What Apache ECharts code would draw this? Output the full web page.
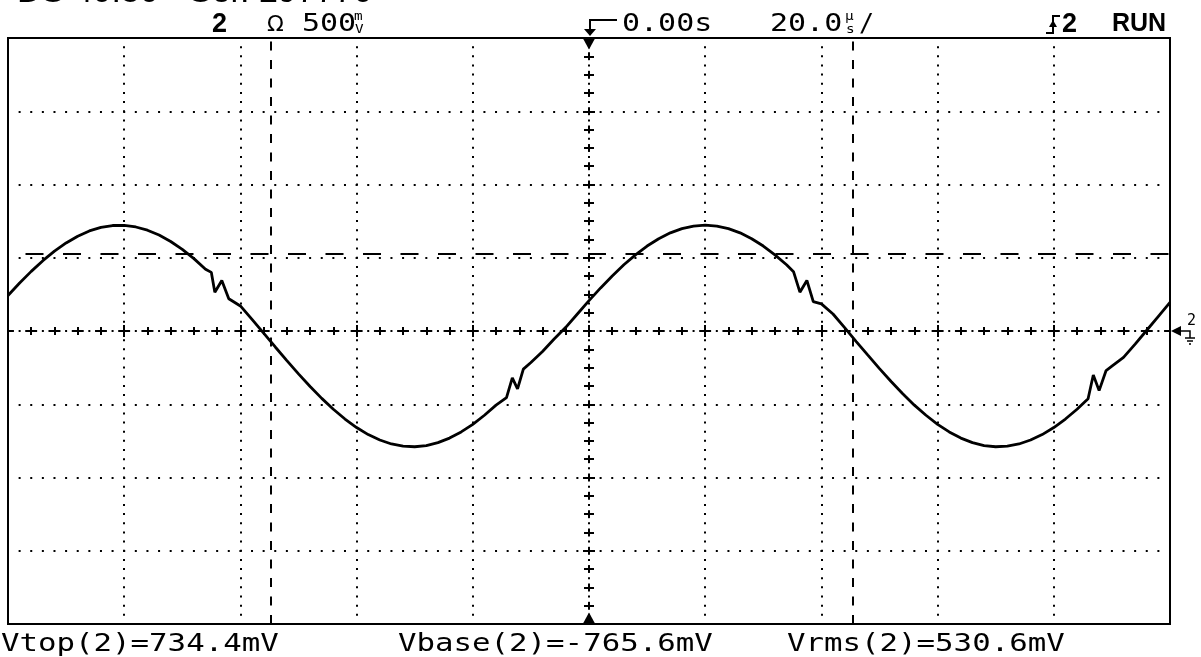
<!DOCTYPE html>
<html>
	<head>
		<meta charset="utf-8" />
		<title>Scope capture</title>
		<script src="https://cdn.jsdelivr.net/npm/echarts@6/dist/echarts.min.js"></script>
		<style>
			body { margin: 0; background: #fff; }
		</style>
	</head>
	<body>
		<div id="main" style="width: 1201px;height:657px;"></div>
		<script type="text/javascript">
			// trace: time in us, channel 2 in mV
			var timeUs = [-100, -98, -96, -94, -92, -90, -88, -86, -84, -82, -80, -78, -76, -74, -72, -70, -68, -66,
				-65, -64.4, -63.2, -62,
				-60, -58, -56, -54, -52, -50, -48, -46, -44, -42, -40, -38, -36, -34, -32, -30, -28, -26, -24, -22, -20, -18, -16,
				-14.2, -13.2, -12.3, -11.3,
				-10, -8, -6, -4, -2, 0, 2, 4, 6, 8, 10, 12, 14, 16, 18, 20, 22, 24, 26, 28, 30, 32, 34,
				35.2, 36.3, 37.5, 38.6,
				40, 42, 44, 46, 48, 50, 52, 54, 56, 58, 60, 62, 64, 66, 68, 70, 72, 74, 76, 78, 80, 82, 84,
				85.9, 86.8, 87.8, 89,
				90, 92, 94, 96, 98, 100];
			var voltMv = [242, 328, 407, 480, 545, 601, 647, 683, 707, 720, 721, 710, 688, 655, 611, 557, 494, 422,
				400, 265, 345, 220,
				171, 79, -15, -109, -202, -293, -379, -460, -534, -601, -659, -707, -744, -771, -786, -790, -782, -762, -731, -689, -637, -575, -506,
				-455, -320, -395, -260,
				-215, -140, -55, 25, 116, 207, 294, 376, 452, 520, 580, 630, 670, 699, 716, 722, 716, 699, 670, 630, 580, 520, 452,
				405, 265, 345, 200,
				185, 116, 23, -72, -165, -257, -345, -428, -506, -575, -637, -689, -731, -762, -782, -790, -786, -771, -744, -707, -659, -601, -534,
				-462, -300, -407, -270,
				-240, -180, -90, 5, 100, 195];

			var cursorTimeUs = [-54.8, 45.4];
			var cursorLevelMv = [525];
			var measureText = ['Vtop(2)=734.4mV', 'Vbase(2)=-765.6mV', 'Vrms(2)=530.6mV'];
			var measureX = [1, 398, 787];

			var scopeFont = '25px "DejaVu Sans Mono"';
			var unitFont = '13px "DejaVu Sans Mono"';
			var boldFont = 'bold 27px "Liberation Sans"';

			function label(x, y, s, font, sx) {
				return {
					type: 'text', x: x, y: y, scaleX: sx || 1, z: 10,
					style: {text: s, font: font, fill: '#000', align: 'left', verticalAlign: 'middle',
						textAlign: 'left', textVerticalAlign: 'middle'}
				};
			}
			function stroke(points, w) {
				return {type: 'polyline', z: 10, shape: {points: points}, style: {stroke: '#000', lineWidth: w || 2, fill: null}};
			}
			function filled(points) {
				return {type: 'polygon', z: 10, shape: {points: points}, style: {fill: '#000'}};
			}

			var trace = [];
			for (var i = 0; i < timeUs.length; i++) {
				trace.push([timeUs[i], voltMv[i]]);
			}

			var cursorLines = [];
			for (var j = 0; j < cursorTimeUs.length; j++) {
				cursorLines.push({xAxis: cursorTimeUs[j]});
			}
			for (var k = 0; k < cursorLevelMv.length; k++) {
				cursorLines.push({yAxis: cursorLevelMv[k], lineStyle: {type: [18, 19.5], dashOffset: 20}});
			}

			var graphics = [
				label(17, -7, 'DS 40.50 - Ser. 297770', '34px "Liberation Sans"'),
				label(212, 25, '2', boldFont),
				label(267, 25, 'Ω', '22px "DejaVu Sans"'),
				label(302, 24, '500', scopeFont, 1.2),
				label(354, 17, 'm', unitFont, 1.1),
				label(355, 30, 'V', unitFont, 1.1),
				stroke([[617, 20], [590, 20], [590, 30]]),
				filled([[584, 29], [596, 29], [590, 36]]),
				label(622, 24, '0.00s', scopeFont, 1.2),
				label(770, 24, '20.0', scopeFont, 1.2),
				label(845, 17, 'µ', unitFont, 1.1),
				label(846, 30, 's', unitFont, 1.1),
				label(859, 24, '/', scopeFont, 1.0),
				stroke([[1046, 33], [1053, 33], [1053, 16], [1060, 16]]),
				filled([[1049, 27], [1057, 27], [1053, 20]]),
				label(1062, 25, '2', boldFont),
				label(1112, 24, 'RUN', 'bold 25px "Liberation Sans"'),
				filled([[1171, 331], [1181, 326], [1181, 336]]),
				stroke([[1181, 331], [1190, 331], [1190, 338]], 1.5),
				stroke([[1185, 338], [1195, 338]], 1.5),
				stroke([[1187, 341], [1193, 341]], 1.5),
				stroke([[1189, 344], [1191, 344]], 1.5),
				label(1187, 321, '2', '15px "DejaVu Sans Mono"')
			];
			for (var m = 0; m < measureText.length; m++) {
				graphics.push(label(measureX[m], 644, measureText[m], scopeFont, 1.23));
			}

			var myChart = echarts.init(document.getElementById('main'));
			var black = '#000';
			var option = {
				backgroundColor: '#fff',
				animation: false,
				grid: {
					left: 8, top: 38, width: 1162, height: 586,
					show: true, borderColor: black, borderWidth: 2, backgroundColor: '#fff'
				},
				xAxis: [{
					type: 'value', min: -100, max: 100, interval: 20, position: 'bottom',
					axisLine: {onZero: true, lineStyle: {color: black, width: 2, type: [10, 13.24], dashOffset: 5}},
					axisTick: {show: true, length: 6, lineStyle: {color: black, width: 2}},
					minorTick: {show: true, splitNumber: 5, length: 4, lineStyle: {color: black, width: 2}},
					axisLabel: {show: false},
					splitLine: {show: true, lineStyle: {color: black, width: 2, type: [2, 7.156], dashOffset: 1}}
				}, {
					type: 'value', min: -100, max: 100, interval: 20, position: 'top',
					axisLine: {onZero: true, lineStyle: {color: black, width: 2, type: [10, 13.24], dashOffset: 5}},
					axisTick: {show: true, length: 6, lineStyle: {color: black, width: 2}},
					minorTick: {show: true, splitNumber: 5, length: 4, lineStyle: {color: black, width: 2}},
					axisLabel: {show: false},
					splitLine: {show: false}
				}],
				yAxis: [{
					type: 'value', min: -2000, max: 2000, interval: 500, position: 'left',
					axisLine: {onZero: true, lineStyle: {color: black, width: 2, type: [6, 12.3125], dashOffset: 3}},
					axisTick: {show: true, length: 6, lineStyle: {color: black, width: 2}},
					minorTick: {show: true, splitNumber: 4, length: 5, lineStyle: {color: black, width: 2}},
					axisLabel: {show: false},
					splitLine: {show: true, lineStyle: {color: black, width: 2, type: [2, 9.62], dashOffset: 1}}
				}, {
					type: 'value', min: -2000, max: 2000, interval: 500, position: 'right',
					axisLine: {onZero: true, lineStyle: {color: black, width: 2, type: [6, 12.3125], dashOffset: 3}},
					axisTick: {show: true, length: 6, lineStyle: {color: black, width: 2}},
					minorTick: {show: true, splitNumber: 4, length: 5, lineStyle: {color: black, width: 2}},
					axisLabel: {show: false},
					splitLine: {show: false}
				}],
				series: [{
					name: 'CH2',
					type: 'line',
					xAxisIndex: 0,
					yAxisIndex: 0,
					data: trace,
					symbol: 'none',
					z: 5,
					lineStyle: {color: black, width: 2.8},
					markLine: {
						silent: true,
						symbol: 'none',
						label: {show: false},
						lineStyle: {color: black, width: 2, type: [9, 9.5]},
						data: cursorLines
					},
					markPoint: {
						silent: true,
						label: {show: false},
						itemStyle: {color: black},
						data: [
							{coord: [0, 2000], symbol: 'triangle', symbolRotate: 180, symbolSize: [12, 11], symbolOffset: [0, 6]},
							{coord: [0, -2000], symbol: 'triangle', symbolSize: [12, 11], symbolOffset: [0, -6]}
						]
					}
				}],
				graphic: graphics
			};
			myChart.setOption(option);
		</script>
	</body>
</html>
